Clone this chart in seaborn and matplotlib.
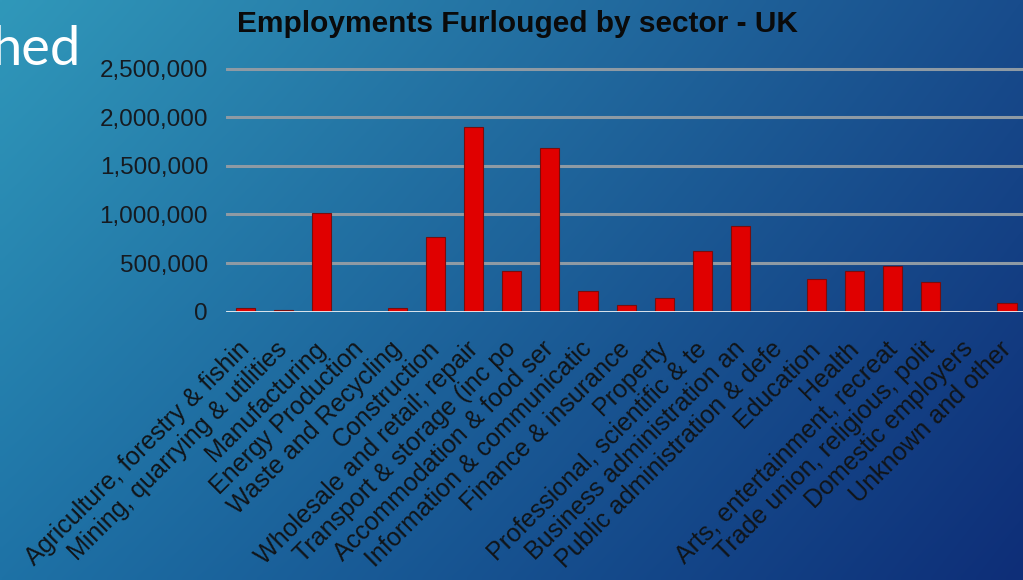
import numpy as np
import pandas as pd
import matplotlib
matplotlib.use("Agg")
import matplotlib.pyplot as plt
import matplotlib.transforms as mtransforms
import seaborn as sns
from matplotlib.ticker import FuncFormatter

categories = [
    "Agriculture, forestry & fishin",
    "Mining, quarrying & utilities",
    "Manufacturing",
    "Energy Production",
    "Waste and Recycling",
    "Construction",
    "Wholesale and retail; repair",
    "Transport & storage (inc po",
    "Accommodation & food ser",
    "Information & communicatic",
    "Finance & insurance",
    "Property",
    "Professional, scientific & te",
    "Business administration an",
    "Public administration & defe",
    "Education",
    "Health",
    "Arts, entertainment, recreat",
    "Trade union, religious, polit",
    "Domestic employers",
    "Unknown and other",
]
furloughed = [
    35000, 15000, 1012000, 12000, 38000, 765000, 1903000, 419000, 1687000,
    216000, 72000, 144000, 624000, 885000, 10000, 333000, 415000, 467000,
    309000, 5000, 93000,
]
y_ticks = [0, 500000, 1000000, 1500000, 2000000, 2500000]
title = "Employments Furlouged by sector - UK"

df = pd.DataFrame({"sector": categories, "employments": furloughed})

sns.set_theme(style="white")
plt.rcParams["font.family"] = ["Liberation Sans", "DejaVu Sans"]

fig = plt.figure(figsize=(10.23, 5.80), dpi=100)

# slide background gradient
bg = fig.add_axes([0, 0, 1, 1], zorder=-10)
h, w = 116, 205
yy, xx = np.mgrid[0:1:h * 1j, 0:1:w * 1j]
tl = np.array([48, 152, 186]) / 255
tr = np.array([24, 76, 140]) / 255
bl = np.array([30, 114, 166]) / 255
br = np.array([14, 46, 120]) / 255
img = (tl * ((1 - xx) * (1 - yy))[..., None] + tr * (xx * (1 - yy))[..., None]
       + bl * ((1 - xx) * yy)[..., None] + br * (xx * yy)[..., None])
bg.imshow(img, aspect="auto", extent=[0, 1, 0, 1], interpolation="bilinear")
bg.set_axis_off()

fig.text(-0.009, 0.888, "hed", fontsize=39, color="white", family=["Lato", "DejaVu Sans"],
         fontweight="normal", va="baseline", ha="left")

ax = fig.add_axes([0.221, 0.4626, 0.782, 0.4274])
ax.patch.set_alpha(0)

sns.barplot(data=df, x="sector", y="employments", color="#e00000", width=0.5,
            edgecolor="#7a0d0d", linewidth=0.8, saturation=1, ax=ax, zorder=3)

ax.set_ylim(0, 2550000)
ax.set_xlim(-0.5, len(categories) - 0.5)
ax.set_yticks(y_ticks)
ax.yaxis.set_major_formatter(FuncFormatter(lambda v, p: f"{int(v):,}"))
ax.grid(False)
for t in y_ticks[1:]:
    ax.axhline(t, color="#8e9aa4", linewidth=2.2, zorder=1)
ax.axhline(0, color="#eef2f5", linewidth=2.0, zorder=4)
for s in ax.spines.values():
    s.set_visible(False)
ax.tick_params(axis="both", length=0)
ax.tick_params(axis="y", labelsize=17.5, labelcolor="#161a20", pad=13)
ax.tick_params(axis="x", labelsize=18, labelcolor="#101418", pad=18)
ax.set_xlabel("")
ax.set_ylabel("")
shift = mtransforms.ScaledTranslation(-8 / 100, 0, fig.dpi_scale_trans)
for lab in ax.get_xticklabels():
    lab.set_rotation(45)
    lab.set_ha("right")
    lab.set_rotation_mode("anchor")
    lab.set_transform(lab.get_transform() + shift)

fig.text(0.506, 0.958, title, fontsize=21.5, fontweight="bold", color="#0a0a0a",
         ha="center", va="center")

fig.savefig("out.png", dpi=100)
